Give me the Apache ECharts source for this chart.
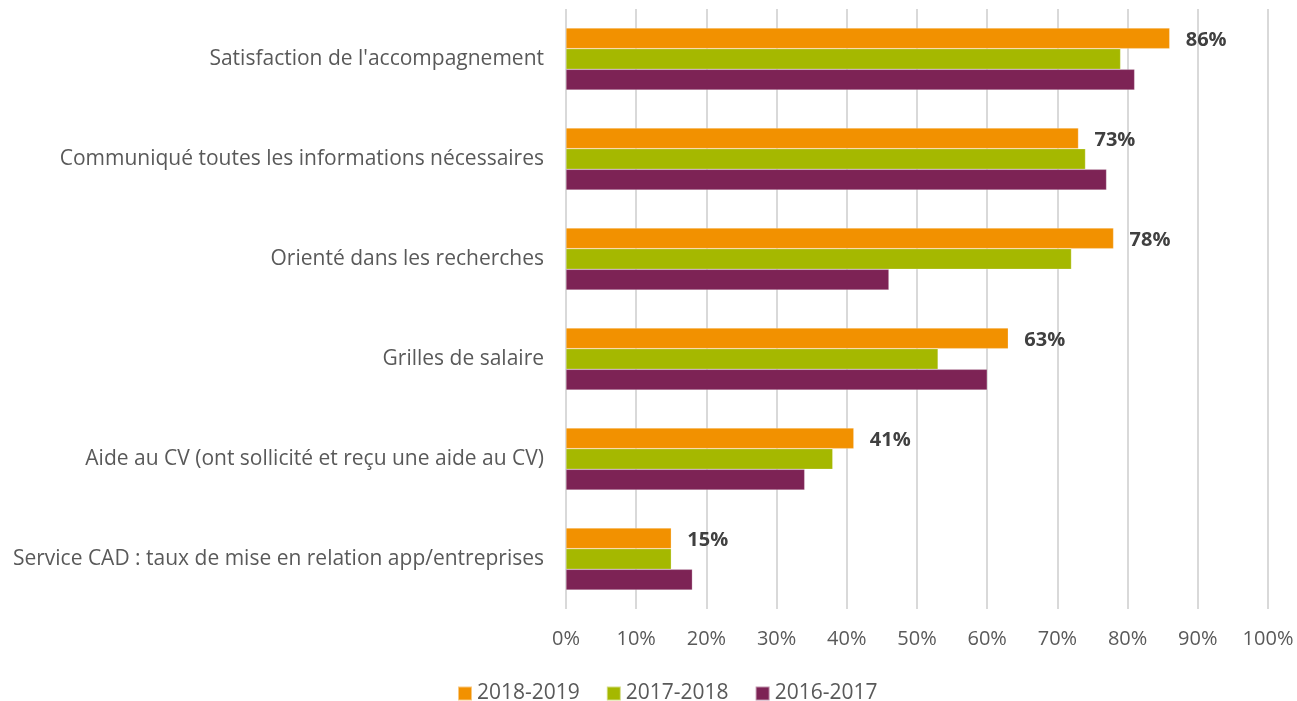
<!DOCTYPE html>
<html lang="fr">
<head>
    <meta charset="UTF-8">
    <title>Satisfaction</title>
    <style>
        html, body { margin: 0; padding: 0; background: #fff; }
        #main { width: 1297px; height: 701px; }
    </style>
    <script src="https://cdn.jsdelivr.net/npm/echarts@6/dist/echarts.min.js"></script>
</head>
<body>
<div id="main"></div>
<script type="text/javascript">
    var categories = [
        "Satisfaction de l'accompagnement",
        "Communiqué toutes les informations nécessaires",
        "Orienté dans les recherches",
        "Grilles de salaire",
        "Aide au CV (ont sollicité et reçu une aide au CV)",
        "Service CAD : taux de mise en relation app/entreprises"
    ];
    var years = ['2018-2019', '2017-2018', '2016-2017'];
    var v2018_2019 = [86, 73, 78, 63, 41, 15];
    var v2017_2018 = [79, 74, 72, 53, 38, 15];
    var v2016_2017 = [81, 77, 46, 60, 34, 18];
    var colors = ['#f29100', '#a5b800', '#7d2355'];

    var font = '"Open Sans", "Liberation Sans", sans-serif';
    var myChart = echarts.init(document.getElementById('main'));

    function makeSeries(name, data, color, withLabel) {
        return {
            name: name,
            type: 'bar',
            data: data,
            barGap: '0%',
            barCategoryGap: '38%',
            itemStyle: { color: color, borderColor: 'rgba(255,255,255,0.5)', borderWidth: 0.5 },
            label: {
                show: withLabel,
                position: 'right',
                distance: 16,
                formatter: '{c}%',
                fontFamily: font,
                fontSize: 20,
                fontWeight: 'bold',
                color: '#404040',
                offset: [0, 2]
            },
            animation: false
        };
    }

    var option = {
        textStyle: { fontFamily: font },
        legend: {
            data: years,
            top: 678,
            left: 452,
            itemWidth: 14,
            itemHeight: 14,
            itemGap: 26,
            icon: 'rect',
            textStyle: { fontFamily: font, fontSize: 21, color: '#595959' }
        },
        grid: { left: 566, right: 29, top: 9, bottom: 92, containLabel: false },
        xAxis: {
            type: 'value',
            min: 0,
            max: 100,
            interval: 10,
            axisLine: { show: false },
            axisTick: { show: false },
            splitLine: { lineStyle: { color: '#d9d9d9', width: 2 } },
            axisLabel: {
                formatter: '{value}%',
                margin: 20,
                fontFamily: font,
                fontSize: 20,
                color: '#595959'
            }
        },
        yAxis: {
            type: 'category',
            data: categories,
            inverse: true,
            axisLine: { show: false },
            axisTick: { show: false },
            axisLabel: {
                margin: 22,
                fontFamily: font,
                fontSize: 21,
                color: '#595959',
                padding: [4, 0, 0, 0]
            }
        },
        series: [
            makeSeries(years[0], v2018_2019, colors[0], true),
            makeSeries(years[1], v2017_2018, colors[1], false),
            makeSeries(years[2], v2016_2017, colors[2], false)
        ]
    };
    myChart.setOption(option);
</script>
</body>
</html>
